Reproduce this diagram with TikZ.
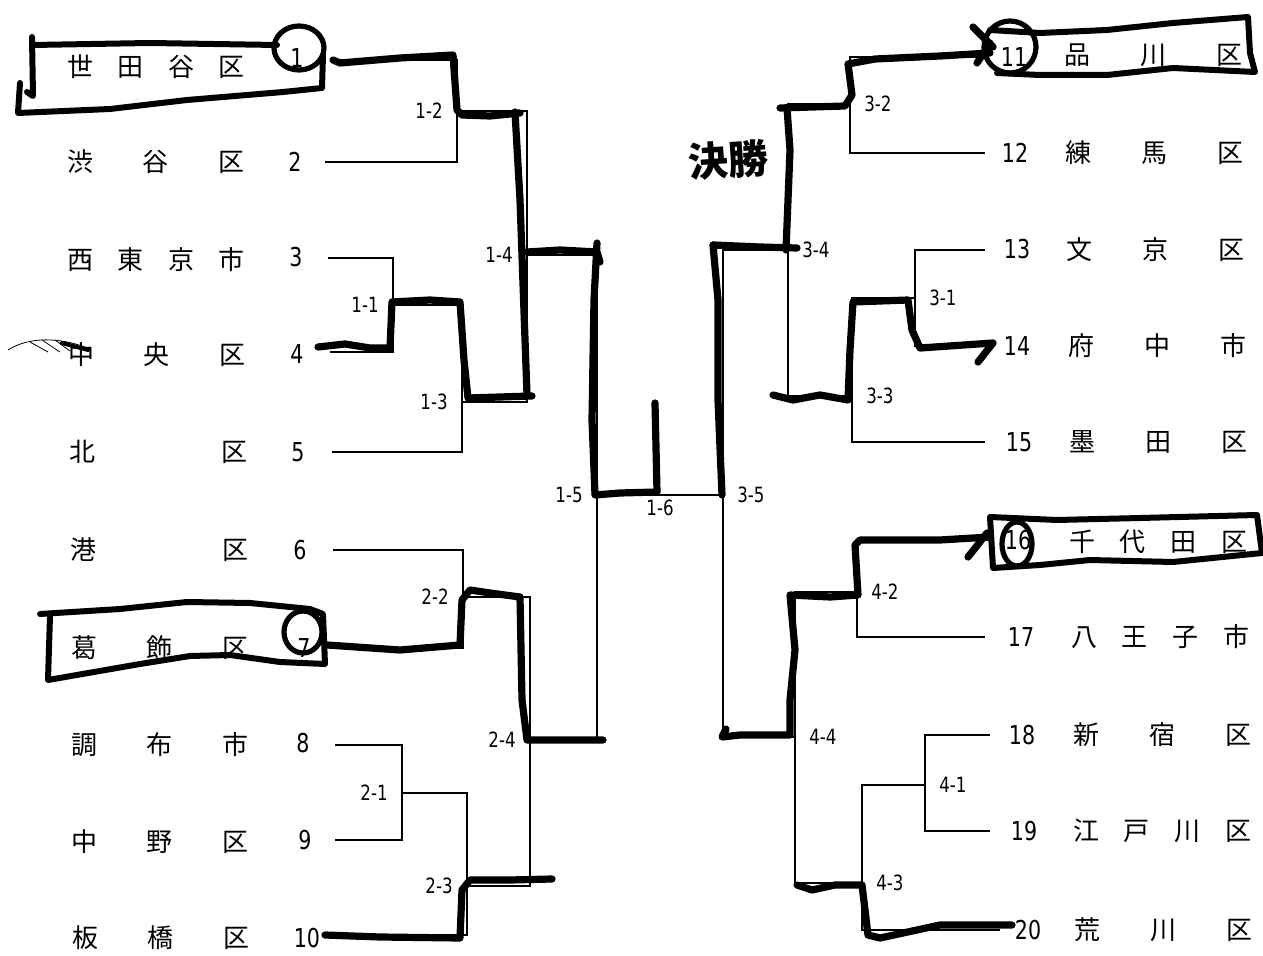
\documentclass[tikz,border=0pt]{standalone}
\usepackage{fontspec}
\setmainfont{DejaVu Sans Condensed}[FakeStretch=0.88]
\newfontfamily\jpfont{Noto Sans CJK JP}
\newcommand\wardname[1]{\makebox[89pt]{\jpfont #1}}
\usetikzlibrary{positioning}

\begin{document}
\begin{tikzpicture}[x=0.5pt, y=-0.5pt,
  ward/.style={inner sep=0pt, font=\fontsize{13}{13}\selectfont},
  seed/.style={inner sep=0pt, font=\fontsize{13}{13}\selectfont},
  game/.style={inner sep=1pt, font=\fontsize{10.5}{10.5}\selectfont},
  bline/.style={line width=0.9pt},
  marker/.style={line width=3.6pt, line cap=round, line join=round},
  ring/.style={line width=2.6pt, line cap=round, line join=round}]
\useasboundingbox (0,0) rectangle (1263,956);
% left block: wards 1-10
\node[ward] (w1) at (156,67) {\wardname{世\hfill 田\hfill 谷\hfill 区}};
\node[ward] (w2) at (156,162) {\wardname{渋\hfill 谷\hfill 区}};
\node[ward] (w3) at (156,260) {\wardname{西\hfill 東\hfill 京\hfill 市}};
\node[ward] (w4) at (157,355) {\wardname{中\hfill 央\hfill 区}};
\node[ward] (w5) at (158,452) {\wardname{北\hfill 区}};
\node[ward] (w6) at (159,550) {\wardname{港\hfill 区}};
\node[ward] (w7) at (160,648) {\wardname{葛\hfill 飾\hfill 区}};
\node[ward] (w8) at (160,745) {\wardname{調\hfill 布\hfill 市}};
\node[ward] (w9) at (160,842) {\wardname{中\hfill 野\hfill 区}};
\node[ward] (w10) at (161,938) {\wardname{板\hfill 橋\hfill 区}};
\node[seed] (s1) at (297,58) {1};
\node[seed] (s2) at (295,162) {2};
\node[seed] (s3) at (296,257) {3};
\node[seed] (s4) at (297,354) {4};
\node[seed] (s5) at (298,452) {5};
\node[seed] (s6) at (300,550) {6};
\node[seed] (s7) at (304,648) {7};
\node[seed] (s8) at (303,743) {8};
\node[seed] (s9) at (305,840) {9};
\node[seed] (s10) at (307,938) {10};
% right block: wards 11-20
\node[ward] (w11) at (1153,55) {\wardname{品\hfill 川\hfill 区}};
\node[ward] (w12) at (1154,153) {\wardname{練\hfill 馬\hfill 区}};
\node[ward] (w13) at (1155,250) {\wardname{文\hfill 京\hfill 区}};
\node[ward] (w14) at (1157,346) {\wardname{府\hfill 中\hfill 市}};
\node[ward] (w15) at (1158,442) {\wardname{墨\hfill 田\hfill 区}};
\node[ward] (w16) at (1158,542) {\wardname{千\hfill 代\hfill 田\hfill 区}};
\node[ward] (w17) at (1160,637) {\wardname{八\hfill 王\hfill 子\hfill 市}};
\node[ward] (w18) at (1162,735) {\wardname{新\hfill 宿\hfill 区}};
\node[ward] (w19) at (1162,831) {\wardname{江\hfill 戸\hfill 川\hfill 区}};
\node[ward] (w20) at (1163,930) {\wardname{荒\hfill 川\hfill 区}};
\node[seed] (s11) at (1014,57) {11};
\node[seed] (s12) at (1015,153) {12};
\node[seed] (s13) at (1017,249) {13};
\node[seed] (s14) at (1017,346) {14};
\node[seed] (s15) at (1019,442) {15};
\node[seed] (s16) at (1018,540) {16};
\node[seed] (s17) at (1021,637) {17};
\node[seed] (s18) at (1022,735) {18};
\node[seed] (s19) at (1024,831) {19};
\node[seed] (s20) at (1028,930) {20};
% line ends and game joints
\coordinate (t1) at (330,60);  \coordinate (t2) at (325,162);
\coordinate (t3) at (328,258); \coordinate (t4) at (330,352);
\coordinate (t5) at (332,452); \coordinate (t6) at (333,550);
\coordinate (t7) at (335,648); \coordinate (t8) at (335,745);
\coordinate (t9) at (335,840); \coordinate (t10) at (325,935);
\coordinate (t11) at (985,57);  \coordinate (t12) at (985,153);
\coordinate (t13) at (985,250); \coordinate (t14) at (985,346);
\coordinate (t15) at (985,442); \coordinate (t16) at (985,540);
\coordinate (t17) at (985,637); \coordinate (t18) at (990,735);
\coordinate (t19) at (990,831); \coordinate (t20) at (1000,930);
\coordinate (g11) at (393,305); \coordinate (g12) at (457,111);
\coordinate (g13) at (462,402); \coordinate (g14) at (527,255);
\coordinate (g21) at (402,793); \coordinate (g22) at (463,597);
\coordinate (g23) at (467,886); \coordinate (g24) at (530,740);
\coordinate (g15) at (597,495); \coordinate (g35) at (723,495);
\coordinate (g31) at (915,298); \coordinate (g32) at (850,104);
\coordinate (g33) at (852,396); \coordinate (g34) at (788,250);
\coordinate (g41) at (925,785); \coordinate (g42) at (857,592);
\coordinate (g43) at (862,883); \coordinate (g44) at (795,737);
% printed bracket
\draw[bline] (t1) -| (g12) |- (t2);
\draw[bline] (t3) -| (g11) |- (t4);
\draw[bline] (g11) -| (g13) |- (t5);
\draw[bline] (g12) -| (g14) |- (g13);
\draw[bline] (t6) -| (g22) |- (t7);
\draw[bline] (t8) -| (g21) |- (t9);
\draw[bline] (g21) -| (g23) |- (t10);
\draw[bline] (g22) -| (g24) |- (g23);
\draw[bline] (g14) -| (g15) |- (g24);
\draw[bline] (g15) -- node[game, below=1pt] (l16) {1-6} (g35);
\draw[bline] (g34) -| (g35) |- (g44);
\draw[bline] (t11) -| (g32) |- (t12);
\draw[bline] (t13) -| (g31) |- (t14);
\draw[bline] (g31) -| (g33) |- (t15);
\draw[bline] (g32) -| (g34) |- (g33);
\draw[bline] (t16) -| (g42) |- (t17);
\draw[bline] (t18) -| (g41) |- (t19);
\draw[bline] (g41) -| (g43) |- (t20);
\draw[bline] (g42) -| (g44) |- (g43);
% game numbers
\node[game, left=6pt of g11] (l11) {1-1};
\node[game, left=6pt of g12] (l12) {1-2};
\node[game, left=6pt of g13] (l13) {1-3};
\node[game, left=6pt of g14] (l14) {1-4};
\node[game, left=6pt of g21] (l21) {2-1};
\node[game, left=6pt of g22] (l22) {2-2};
\node[game, left=6pt of g23] (l23) {2-3};
\node[game, left=6pt of g24] (l24) {2-4};
\node[game, left=6pt of g15] (l15) {1-5};
\node[game, right=6pt of g35] (l35) {3-5};
\node[game, right=6pt of g31] (l31) {3-1};
\node[game, right=6pt of g32] (l32) {3-2};
\node[game, right=6pt of g33] (l33) {3-3};
\node[game, right=6pt of g34] (l34) {3-4};
\node[game, right=6pt of g41] (l41) {4-1};
\node[game, right=6pt of g42] (l42) {4-2};
\node[game, right=6pt of g43] (l43) {4-3};
\node[game, right=6pt of g44] (l44) {4-4};
% pen marks: boxes and rings round the picked wards
\draw[marker, line width=3pt] (33,45) -- (150,43) -- (277,45);
\draw[marker, line width=3pt] (32,37) -- (33,96) -- (27,92);
\draw[marker, line width=3pt] (20,83) -- (18,113) -- (110,109) -- (187,100) -- (283,92) -- (322,88) -- (323,55);
\draw[ring] (299,48) ellipse [x radius=25, y radius=22];
\draw[marker, line width=3pt] (40,614) -- (120,609) -- (187,602) -- (250,603) -- (310,609) -- (323,614) -- (325,664) -- (280,662) -- (230,655) -- (190,656) -- (140,664) -- (48,680) -- (50,616);
\draw[ring] (303,632) ellipse [x radius=19, y radius=21];
\draw[marker, line width=3pt] (990,30) -- (1040,33) -- (1107,30) -- (1173,23) -- (1248,17) -- (1250,53) -- (1255,72) -- (1173,68) -- (1107,75) -- (1040,75) -- (997,73);
\draw[ring] (1010,47) ellipse [x radius=26, y radius=26];
\draw[marker, line width=3pt] (990,517) -- (1057,520) -- (1140,518) -- (1257,515) -- (1262,553) -- (1173,562) -- (1090,560) -- (1040,565) -- (993,568) -- cycle;
\draw[ring] (1017,544) ellipse [x radius=15, y radius=22];
\node[font=\jpfont\bfseries\fontsize{20}{20}\selectfont, rotate=4] (final) at (728,160) {決勝};
\draw[line width=0.4pt] (8,350) .. controls (30,336) and (60,338) .. (85,347);
\draw[line width=0.4pt] (30,342) -- (48,352) (42,340) -- (60,352) (55,340) -- (70,351);
\draw[line width=2pt, line cap=round] (62,343) -- (88,350);
% pen marks: winners' paths, left half
\draw[marker] (333,60) -- (340,63) -- (400,58) -- (453,55) -- (457,110) -- (462,115) -- (490,116) -- (520,113);
\draw[marker] (515,112) -- (520,200) -- (527,395);
\draw[marker] (318,347) -- (345,344) -- (370,348) -- (390,348) -- (392,302) -- (430,300) -- (460,302) -- (464,360) -- (468,398) -- (532,396);
\draw[marker] (527,252) -- (560,250) -- (597,252) -- (600,262);
\draw[marker] (597,243) -- (594,300) -- (592,420) -- (595,495) -- (620,493) -- (657,492);
\draw[marker] (655,403) -- (657,492);
\draw[marker] (327,645) -- (400,650) -- (460,645) -- (462,600) -- (470,590) -- (490,593) -- (520,597) -- (522,700) -- (527,740) -- (560,740) -- (603,740);
\draw[marker] (325,935) -- (380,937) -- (460,938) -- (462,890) -- (470,880) -- (510,880) -- (552,879);
% pen marks: winners' paths, right half
\draw[marker] (780,108) -- (845,106) -- (852,95) -- (848,64) -- (875,59) -- (940,56) -- (990,53);
\draw[marker] (973,27) -- (993,47) (977,63) -- (990,43);
\draw[marker] (787,108) -- (790,150) -- (786,250);
\draw[marker] (713,245) -- (760,247) -- (797,248);
\draw[marker] (713,245) -- (718,300) -- (718,400) -- (722,495);
\draw[marker] (978,362) -- (993,343) -- (920,348) -- (912,330) -- (908,300) -- (853,302) -- (850,350) -- (848,400) -- (820,395) -- (793,400) -- (773,395);
\draw[marker] (990,537) -- (940,540) -- (860,540) -- (855,545) -- (858,595) -- (830,597) -- (790,595) -- (795,650) -- (790,700) -- (790,735) -- (740,735) -- (722,737) -- (726,729);
\draw[marker] (987,533) -- (968,557);
\draw[marker] (1012,925) -- (940,925) -- (880,938) -- (868,935) -- (862,885) -- (835,885) -- (812,890) -- (797,885);
\end{tikzpicture}
\end{document}
